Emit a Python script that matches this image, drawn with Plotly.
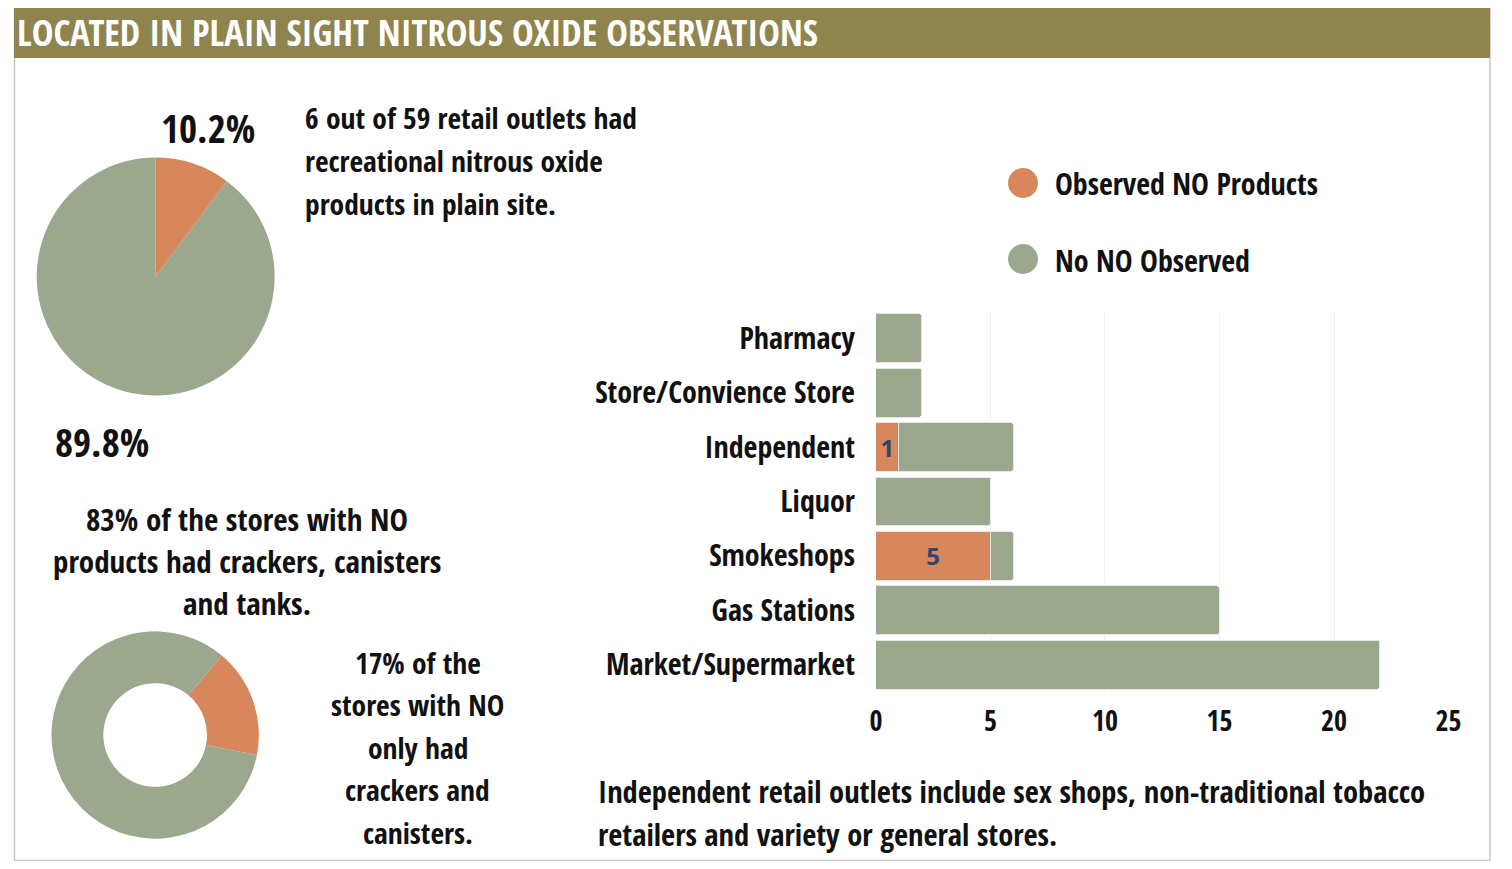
import plotly.graph_objects as go

# ---------------- data ----------------
categories = ["Pharmacy", "Store/Convience Store", "Independent", "Liquor",
              "Smokeshops", "Gas Stations", "Market/Supermarket"]
observed_no = [0, 0, 1, 0, 5, 0, 0]
no_no_observed = [2, 2, 5, 5, 1, 15, 22]

pie_labels = ["Observed NO Products", "No NO Observed"]
pie_values = [10.2, 89.8]
donut_labels = ["Crackers and canisters only", "Crackers, canisters and tanks"]
donut_values = [17, 83]
x_ticks = [0, 5, 10, 15, 20, 25]

title_text = "LOCATED IN PLAIN SIGHT NITROUS OXIDE OBSERVATIONS"
note1_lines = ["6 out of 59 retail outlets had", "recreational nitrous oxide", "products in plain site."]
note2_lines = ["83% of the stores with NO", "products had crackers, canisters", "and tanks."]
note3_lines = ["17% of the", "stores with NO", "only had", "crackers and", "canisters."]
note4_lines = ["Independent retail outlets include sex shops, non-traditional tobacco",
               "retailers and variety or general stores."]

ORANGE = "#D8875C"
GREEN = "#9BA88E"
HEADER = "#8F844E"
NAVY = "#2E4670"
FONT = "Open Sans Condensed, Roboto Condensed, sans-serif"

# page has an 8px body margin; figure fills the rest of the 1512x869 window
OFF = 8
W, H = 1512 - 2 * OFF, 869 - 2 * OFF


def px(x):
    return (x - OFF) / W


def py(y):
    return 1 - (y - OFF) / H


fig = go.Figure()

# main pie
fig.add_trace(go.Pie(
    labels=pie_labels, values=pie_values, sort=False, direction="clockwise",
    rotation=0, marker=dict(colors=[ORANGE, GREEN]), textinfo="none",
    hoverinfo="label+percent", showlegend=False,
    domain=dict(x=[px(31), px(272)], y=[py(397), py(156)])))

# donut
fig.add_trace(go.Pie(
    labels=donut_labels, values=donut_values, sort=False, direction="clockwise",
    rotation=40, hole=0.5, marker=dict(colors=[ORANGE, GREEN]), textinfo="none",
    hoverinfo="label+percent", showlegend=False,
    domain=dict(x=[px(46), px(256)], y=[py(840), py(630)])))

# stacked bars
fig.add_trace(go.Bar(
    y=categories, x=observed_no, orientation="h", name="Observed NO Products",
    marker=dict(color=ORANGE, line=dict(color="#e6e6e6", width=1)),
    text=[str(v) if v else "" for v in observed_no], textposition="inside",
    insidetextanchor="middle",
    textfont=dict(family="Open Sans, Lato, sans-serif", size=24, color=NAVY, weight="bold"),
    showlegend=False))
fig.add_trace(go.Bar(
    y=categories, x=no_no_observed, orientation="h", name="No NO Observed",
    marker=dict(color=GREEN, line=dict(color="#e6e6e6", width=1)),
    showlegend=False))

fig.update_layout(
    width=W, height=H, autosize=False, margin=dict(l=0, r=0, t=0, b=0),
    paper_bgcolor="white", plot_bgcolor="white",
    barmode="stack", bargap=0.1, barcornerradius=3,
    xaxis=dict(domain=[px(881), px(1461)], range=[0, 25], tickvals=x_ticks,
               showgrid=True, gridcolor="#f0f0f0", gridwidth=1, zeroline=False,
               showline=False, ticks="", ticklabelstandoff=10,
               tickfont=dict(family=FONT, size=28, color="#111", weight="bold")),
    yaxis=dict(domain=[py(692), py(311)], categoryorder="array",
               categoryarray=categories, autorange="reversed",
               showgrid=False, zeroline=False, showline=False, ticks="",
               ticklabelstandoff=20,
               tickfont=dict(family=FONT, size=30, color="#111", weight="bold")),
)

shapes = []
# outer border
shapes.append(dict(type="rect", xref="paper", yref="paper",
                   x0=px(8.5), x1=px(1503), y0=py(860.5), y1=py(8),
                   line=dict(color="#c8c8c8", width=1.5), fillcolor="rgba(0,0,0,0)", layer="below"))
# header band
shapes.append(dict(type="rect", xref="paper", yref="paper",
                   x0=px(8), x1=px(1503), y0=py(58), y1=py(8),
                   line=dict(width=0), fillcolor=HEADER, layer="below"))
# legend circles
for cy, col in [(183, ORANGE), (259, GREEN)]:
    shapes.append(dict(type="circle", xref="paper", yref="paper",
                       xsizemode="pixel", ysizemode="pixel",
                       xanchor=px(1030), yanchor=py(cy),
                       x0=-15, x1=15, y0=-15, y1=15,
                       line=dict(width=0), fillcolor=col))

annotations = []


def txt(text, x, y, size, xanchor="left", color="#111"):
    annotations.append(dict(text=text, x=px(x), y=py(y), xref="paper", yref="paper",
                            xanchor=xanchor, yanchor="middle", showarrow=False,
                            font=dict(family=FONT, size=size, color=color, weight="bold")))


txt(title_text, 9, 32, 36.5, color="white")
txt(f"{pie_values[0]}%", 155, 128, 39)
txt(f"{pie_values[1]}%", 48, 441, 39)
txt(pie_labels[0], 1060, 184, 30)
txt(pie_labels[1], 1060, 260, 30)
for i, line in enumerate(note1_lines):
    txt(line, 301, 117 + i * 43, 29.5)
for i, line in enumerate(note2_lines):
    txt(line, 244, 519 + i * 42, 31, xanchor="center")
for i, line in enumerate(note3_lines):
    txt(line, 417, 662 + i * 42.5, 29.5, xanchor="center")
for i, line in enumerate(note4_lines):
    txt(line, 597, 791 + i * 43, 30.5)

fig.update_layout(shapes=shapes, annotations=annotations)

fig.write_html("out.html", config={"displayModeBar": False, "responsive": False})
